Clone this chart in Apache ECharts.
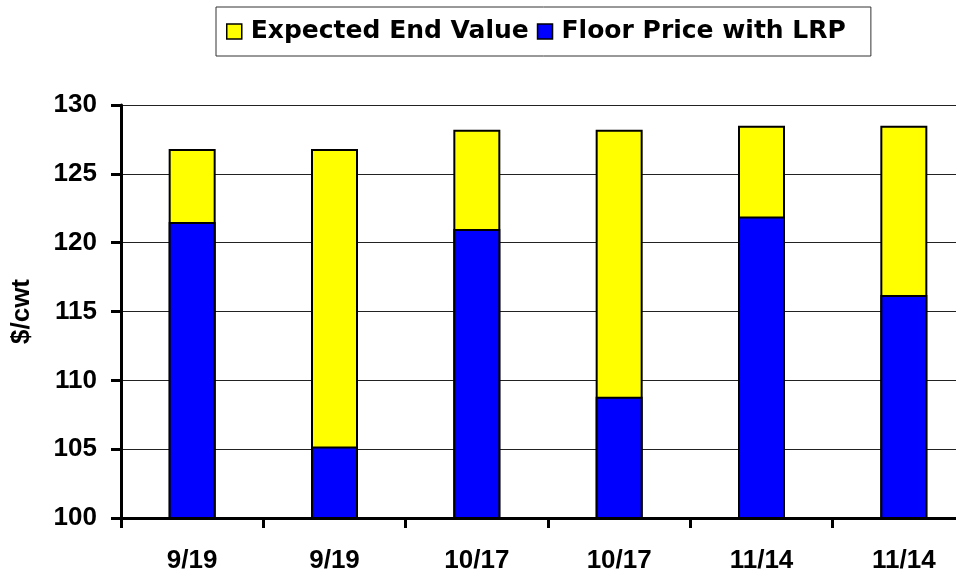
<!DOCTYPE html>
<html>
<head>
<meta charset="utf-8">
<script src="https://cdn.jsdelivr.net/npm/echarts@6/dist/echarts.min.js"></script>
<style>
html,body{margin:0;padding:0;overflow:hidden;background:#fff;width:956px;height:575px;}
#c{width:976px;height:575px;}
</style>
</head>
<body>
<div id="c"></div>
<script>
const categories = ['9/19', '9/19', '10/17', '10/17', '11/14', '11/14'];
const expectedEndValue = [126.8, 126.8, 128.2, 128.2, 128.5, 128.5];
const floorPriceLRP = [121.5, 105.2, 121.0, 108.8, 121.9, 116.2];
const yTicks = { min: 100, max: 130, interval: 5 };

const chart = echarts.init(document.getElementById('c'));
const bold = '"Liberation Sans", Arial, sans-serif';
chart.setOption({
  animation: false,
  backgroundColor: '#fff',
  grid: { left: 121, right: 1, top: 105, bottom: 57, containLabel: false, outerBoundsMode: 'none' },
  legend: {
    left: 216, top: 7,
    padding: [12, 25, 12, 10],
    itemWidth: 15, itemHeight: 15, itemGap: 8,
    borderColor: '#333', borderWidth: 1,
    icon: 'rect',
    textStyle: { fontFamily: 'DejaVu Sans', fontWeight: 'bold', fontSize: 25, color: '#000', padding: [0, 0, 0, 4] },
    data: [
      { name: 'Expected End Value', itemStyle: { color: '#FFFF00', borderColor: '#000', borderWidth: 1.5 } },
      { name: 'Floor Price with LRP', itemStyle: { color: '#0000FF', borderColor: '#000', borderWidth: 1.5 } }
    ]
  },
  xAxis: {
    type: 'category',
    data: categories,
    axisLine: { lineStyle: { color: '#000', width: 3 } },
    axisTick: { show: true, length: 10, lineStyle: { color: '#000', width: 3 } },
    axisLabel: { fontFamily: bold, fontWeight: 'bold', fontSize: 26, color: '#000', margin: 30 }
  },
  yAxis: {
    type: 'value',
    min: yTicks.min, max: yTicks.max, interval: yTicks.interval,
    name: '$/cwt',
    nameLocation: 'middle',
    nameGap: 86,
    nameTextStyle: { fontFamily: bold, fontWeight: 'bold', fontSize: 26, color: '#000' },
    axisLine: { show: true, lineStyle: { color: '#000', width: 3 } },
    axisTick: { show: true, length: 10, lineStyle: { color: '#000', width: 3 } },
    axisLabel: { fontFamily: bold, fontWeight: 'bold', fontSize: 26, color: '#000', margin: 24 },
    splitLine: { show: true, lineStyle: { color: '#222', width: 1 } }
  },
  series: [
    {
      name: 'Expected End Value', type: 'bar', data: expectedEndValue,
      barWidth: 47, barGap: '-100%',
      itemStyle: { color: '#FFFF00', borderColor: '#000', borderWidth: 2 }
    },
    {
      name: 'Floor Price with LRP', type: 'bar', data: floorPriceLRP,
      barWidth: 47, barGap: '-100%',
      itemStyle: { color: '#0000FF', borderColor: '#000', borderWidth: 2 }
    }
  ]
});
</script>
</body>
</html>
